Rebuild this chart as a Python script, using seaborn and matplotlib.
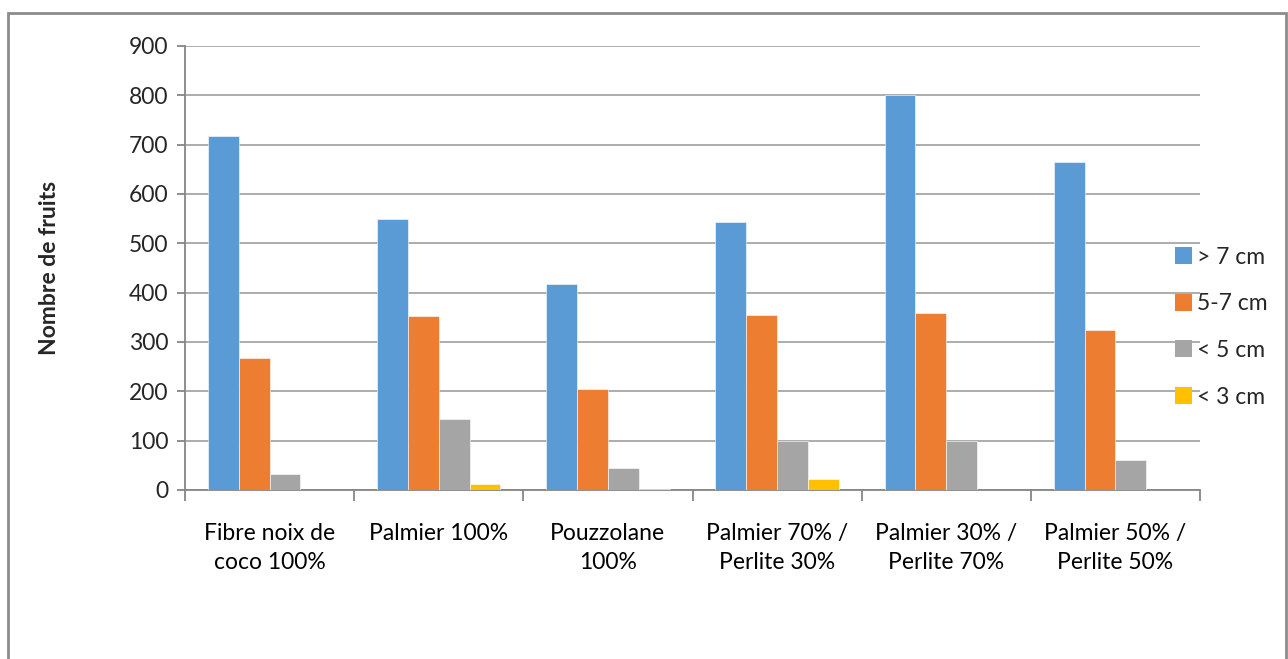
import matplotlib
matplotlib.use("Agg")
import matplotlib.pyplot as plt
from matplotlib.patches import Patch, Rectangle
import seaborn as sns
import pandas as pd

# Substrates (x categories) and fruit size classes
substrats = [
    "Fibre noix de\ncoco 100%",
    "Palmier 100%",
    "Pouzzolane\n100%",
    "Palmier 70% /\nPerlite 30%",
    "Palmier 30% /\nPerlite 70%",
    "Palmier 50% /\nPerlite 50%",
]
classes = ["> 7 cm", "5-7 cm", "< 5 cm", "< 3 cm"]

sup_7 = [718, 549, 418, 543, 800, 664]
de_5_7 = [267, 352, 205, 354, 359, 325]
inf_5 = [32, 143, 44, 100, 100, 61]
inf_3 = [0, 12, 3, 22, 1, 1]

couleurs = ["#5B9BD5", "#ED7D31", "#A5A5A5", "#FFC000"]

rows = []
for serie, vals in zip(classes, [sup_7, de_5_7, inf_5, inf_3]):
    for s, v in zip(substrats, vals):
        rows.append({"Substrat": s, "Classe": serie, "Nombre": v})
df = pd.DataFrame(rows)

sns.set_theme(style="white")
plt.rcParams["font.family"] = ["Lato", "DejaVu Sans"]

FS = 16.5

fig = plt.figure(figsize=(12.88, 6.59), dpi=100)
ax = fig.add_axes([185 / 1288, 1 - 490 / 659, 1015 / 1288, 444 / 659])

sns.barplot(
    data=df, x="Substrat", y="Nombre", hue="Classe",
    order=substrats, hue_order=classes, palette=couleurs,
    width=0.73, gap=0, saturation=1, errorbar=None,
    edgecolor="white", linewidth=0.4, ax=ax, legend=False, zorder=3,
)

ax.set_xlim(-0.5, len(substrats) - 0.5)
ax.set_ylim(0, 900)
ax.set_yticks(range(0, 901, 100))
ax.yaxis.grid(True, color="#A6A6A6", linewidth=1.3, zorder=0)
ax.set_axisbelow(True)

grid_col = "#868686"
for side in ["top", "right"]:
    ax.spines[side].set_visible(False)
ax.spines["left"].set_color(grid_col)
ax.spines["bottom"].set_color(grid_col)
ax.spines["left"].set_linewidth(1.3)
ax.spines["bottom"].set_linewidth(1.3)

# Category labels centered, tick marks on the group boundaries
ax.tick_params(axis="x", which="major", length=0, pad=24, labelsize=FS, colors="#000000")
ax.set_xticks(list(range(len(substrats))))
ax.set_xticklabels(substrats, linespacing=1.45)
ax.set_xticks([x - 0.5 for x in range(len(substrats) + 1)], minor=True)
ax.tick_params(axis="x", which="minor", length=8, width=1.3, color=grid_col, direction="out", bottom=True)
ax.tick_params(axis="y", length=6, width=1.3, color=grid_col, direction="out", left=True, labelsize=FS, pad=6)

ax.set_xlabel("")
ax.set_ylabel("Nombre de fruits", fontsize=FS, fontweight="bold", labelpad=0)
ax.yaxis.set_label_coords(-(185 - 60) / 1015, 0.5)

handles = [Patch(facecolor=c, edgecolor="none") for c in couleurs]
fig.legend(
    handles, classes, loc="center left",
    bbox_to_anchor=(1166 / 1288, 1 - 327 / 659),
    frameon=False, fontsize=FS, handlelength=0.75, handleheight=0.75,
    handletextpad=0.2, labelspacing=1.12, borderaxespad=0,
)

# Outer chart frame
fig.patches.append(Rectangle((8 / 1288, -0.02), 1278 / 1288, 1 - 13 / 659 + 0.02,
                             transform=fig.transFigure, fill=False,
                             edgecolor="#8C8C8C", linewidth=2))

fig.savefig("out.png", dpi=100, facecolor="white")
